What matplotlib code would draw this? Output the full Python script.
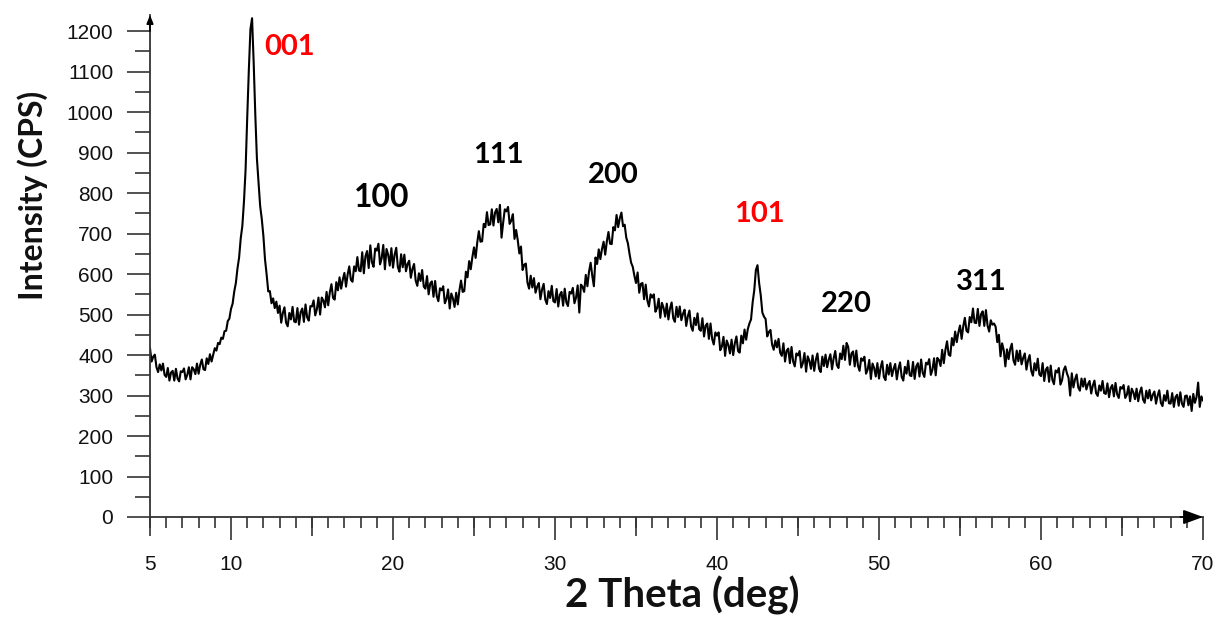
"""
XRD pattern: intensity vs 2 theta with indexed reflections.
"""

import matplotlib.pyplot as plt
import numpy as np
from matplotlib.ticker import MultipleLocator

# scan settings (deg)
theta_start = 5.0
theta_step = 0.1

# counts per step, one row per degree (5.0 .. 69.9), then the last point at 70.0
counts = [
    417, 384, 396, 401, 370, 358, 377, 362, 379, 351,   # 5
    346, 368, 337, 357, 361, 337, 366, 342, 335, 360,   # 6
    358, 367, 340, 351, 370, 340, 370, 365, 353, 379,   # 7
    354, 376, 389, 365, 363, 392, 378, 402, 384, 400,   # 8
    417, 411, 430, 427, 443, 440, 459, 460, 484, 490,   # 9
    514, 527, 557, 578, 614, 641, 688, 719, 779, 858,   # 10
    985, 1103, 1205, 1232, 1122, 994, 885, 826, 768, 736,  # 11
    694, 636, 599, 557, 558, 528, 540, 516, 532, 504,   # 12
    522, 480, 504, 518, 480, 471, 504, 488, 519, 483,   # 13
    481, 516, 475, 506, 515, 482, 525, 493, 485, 521,   # 14
    520, 535, 498, 513, 542, 500, 542, 535, 518, 556,   # 15
    523, 555, 575, 541, 537, 580, 560, 592, 564, 586,   # 16
    603, 569, 599, 619, 586, 581, 619, 607, 642, 609,   # 17
    607, 654, 602, 644, 657, 615, 671, 629, 618, 663,   # 18
    658, 675, 624, 639, 672, 612, 662, 648, 621, 664,   # 19
    616, 648, 665, 617, 606, 649, 617, 648, 607, 625,   # 20
    633, 591, 613, 625, 584, 571, 602, 583, 610, 569,   # 21
    564, 595, 550, 577, 582, 544, 583, 546, 533, 565,   # 22
    560, 570, 528, 538, 562, 515, 552, 540, 519, 554,   # 23
    525, 560, 584, 556, 558, 606, 592, 632, 612, 642,   # 24
    666, 640, 678, 706, 680, 681, 724, 716, 753, 721,   # 25
    723, 760, 720, 752, 761, 728, 771, 690, 727, 760,   # 26
    755, 766, 724, 732, 748, 687, 709, 684, 651, 668,   # 27
    610, 623, 626, 579, 564, 596, 567, 590, 554, 569,   # 28
    578, 538, 562, 576, 537, 526, 558, 541, 571, 533,   # 29
    530, 563, 520, 549, 556, 522, 564, 530, 521, 556,   # 30
    552, 566, 528, 542, 572, 505, 574, 569, 556, 598,   # 31
    570, 606, 628, 596, 570, 641, 625, 661, 637, 662,   # 32
    680, 648, 681, 704, 675, 674, 716, 708, 746, 716,   # 33
    738, 752, 718, 722, 690, 676, 650, 628, 618, 596,   # 34
    578, 604, 554, 576, 578, 538, 574, 535, 520, 550,   # 35
    542, 550, 507, 516, 539, 492, 529, 517, 495, 527,   # 36
    488, 515, 530, 491, 482, 519, 494, 520, 486, 502,   # 37
    512, 472, 496, 510, 471, 460, 492, 474, 503, 464,   # 38
    460, 491, 446, 473, 478, 440, 478, 440, 426, 456,   # 39
    448, 456, 412, 421, 445, 398, 436, 425, 404, 438,   # 40
    400, 429, 446, 410, 406, 448, 429, 463, 438, 464,   # 41
    478, 488, 530, 560, 610, 622, 578, 548, 505, 495,   # 42
    489, 446, 457, 462, 426, 413, 436, 419, 440, 406,   # 43
    398, 429, 384, 411, 416, 380, 420, 384, 372, 404,   # 44
    399, 410, 369, 380, 405, 359, 397, 386, 366, 399,   # 45
    361, 388, 404, 366, 358, 396, 373, 401, 370, 389,   # 46
    402, 365, 392, 410, 375, 368, 404, 390, 423, 388,   # 47
    430, 420, 376, 404, 409, 372, 411, 374, 361, 392,   # 48
    386, 396, 354, 364, 388, 341, 379, 368, 347, 380,   # 49
    342, 369, 385, 346, 338, 376, 352, 380, 348, 366,   # 50
    378, 340, 366, 382, 346, 337, 371, 354, 386, 350,   # 51
    348, 383, 341, 372, 380, 347, 389, 356, 346, 381,   # 52
    377, 390, 351, 364, 392, 350, 393, 388, 373, 413,   # 53
    380, 413, 434, 401, 398, 442, 424, 458, 432, 456,   # 54
    473, 440, 471, 492, 460, 456, 494, 481, 515, 480,   # 55
    479, 514, 472, 501, 508, 472, 511, 473, 458, 486,   # 56
    475, 478, 470, 432, 450, 397, 429, 412, 372, 414,   # 57
    390, 415, 428, 387, 376, 411, 385, 411, 377, 393,   # 58
    404, 364, 387, 400, 361, 349, 380, 362, 391, 352,   # 59
    348, 380, 336, 364, 370, 334, 374, 339, 328, 362,   # 60
    357, 368, 327, 338, 363, 372, 355, 344, 300, 355,   # 61
    320, 340, 352, 320, 312, 342, 322, 342, 315, 328,   # 62
    336, 305, 325, 337, 306, 299, 325, 312, 336, 306,   # 63
    304, 330, 296, 319, 326, 298, 331, 303, 294, 321,   # 64
    317, 326, 294, 302, 323, 286, 317, 308, 291, 317,   # 65
    286, 308, 320, 290, 282, 312, 293, 314, 288, 302,   # 66
    310, 280, 300, 313, 282, 274, 301, 287, 312, 281,   # 67
    280, 306, 272, 296, 302, 275, 308, 280, 272, 299,   # 68
    300, 276, 298, 262, 304, 282, 296, 332, 272, 298,   # 69
    288,
]

# reflection labels and where they are written (2theta, counts)
peak_labels = ["001", "100", "111", "200", "101", "220", "311"]
label_theta = [13.6, 19.3, 26.5, 33.6, 42.65, 48.0, 56.3]
label_counts = [1160, 790, 894, 844, 748, 526, 580]
label_colors = ["#ff0000", "black", "black", "black", "#ff0000", "black", "black"]
label_sizes = [21, 23, 21, 21, 21, 21, 21]

two_theta = np.round(theta_start + theta_step * np.arange(len(counts)), 1)

AXIS_COLOR = "#333333"
title_font = "Lato"
tick_font = "Liberation Sans"

fig = plt.figure(figsize=(12.2, 6.35), dpi=100)
ax = fig.add_axes([150 / 1220, 118 / 635, 1053 / 1220, 502 / 635])

ax.plot(two_theta, counts, color="black", linewidth=1.5)

ax.set_xlim(5, 70)
ax.set_ylim(0, 1240)

for side in ("top", "right"):
    ax.spines[side].set_visible(False)
for side in ("left", "bottom"):
    ax.spines[side].set_color(AXIS_COLOR)
    ax.spines[side].set_linewidth(1.3)

# y axis: long ticks every 100, short ones in between
ax.yaxis.set_major_locator(MultipleLocator(100))
ax.yaxis.set_minor_locator(MultipleLocator(50))
ax.tick_params(axis="y", which="major", length=16.5, width=1.2, color=AXIS_COLOR,
               pad=10, labelsize=15)
ax.tick_params(axis="y", which="minor", length=10.5, width=1.2, color=AXIS_COLOR)

# x axis: long ticks at tens, 1-degree minor ticks
ax.xaxis.set_major_locator(MultipleLocator(10))
ax.xaxis.set_minor_locator(MultipleLocator(1))
ax.tick_params(axis="x", which="major", length=16.5, width=1.2, color=AXIS_COLOR,
               pad=11, labelsize=15)
ax.tick_params(axis="x", which="minor", length=8, width=1.2, color=AXIS_COLOR)

# medium ticks at the odd fives, only "5" gets a label
mid = ax.secondary_xaxis("bottom")
mid_ticks = [5, 15, 25, 35, 45, 55, 65]
mid.set_xticks(mid_ticks, ["5"] + [""] * (len(mid_ticks) - 1))
mid.spines["bottom"].set_visible(False)
mid.tick_params(axis="x", length=13.5, width=1.2, color=AXIS_COLOR,
                pad=11 + 3.0, labelsize=15)

for lbl in ax.get_xticklabels() + ax.get_yticklabels() + mid.get_xticklabels():
    lbl.set_fontfamily(tick_font)
    lbl.set_color("#111111")

# arrow heads at the ends of both axes
ax.annotate("", xy=(70, 0), xytext=(68.6, 0), annotation_clip=False,
            arrowprops=dict(arrowstyle="-|>,head_length=0.6,head_width=0.22",
                            color="black", lw=1.2, mutation_scale=20,
                            shrinkA=0, shrinkB=0))
ax.annotate("", xy=(5, 1240), xytext=(5, 1200), annotation_clip=False,
            arrowprops=dict(arrowstyle="-|>,head_length=0.25,head_width=0.1",
                            color="black", lw=1.2, mutation_scale=20,
                            shrinkA=0, shrinkB=0))

ax.set_xlabel("2 Theta (deg)", fontfamily=title_font, fontweight="bold",
              fontsize=29, color="#111111", va="center")
ax.xaxis.set_label_coords(0.505, -0.157)
ax.set_ylabel("Intensity (CPS)", fontfamily=title_font, fontweight="bold",
              fontsize=23, color="#111111", va="center")
ax.yaxis.set_label_coords(-0.111, 0.641)

for text, tx, ty, col, fs in zip(peak_labels, label_theta, label_counts,
                                 label_colors, label_sizes):
    ax.text(tx, ty, text, color=col, fontfamily=title_font, fontweight="bold",
            fontsize=fs, ha="center", va="center")

fig.savefig("out.png", dpi=100)
